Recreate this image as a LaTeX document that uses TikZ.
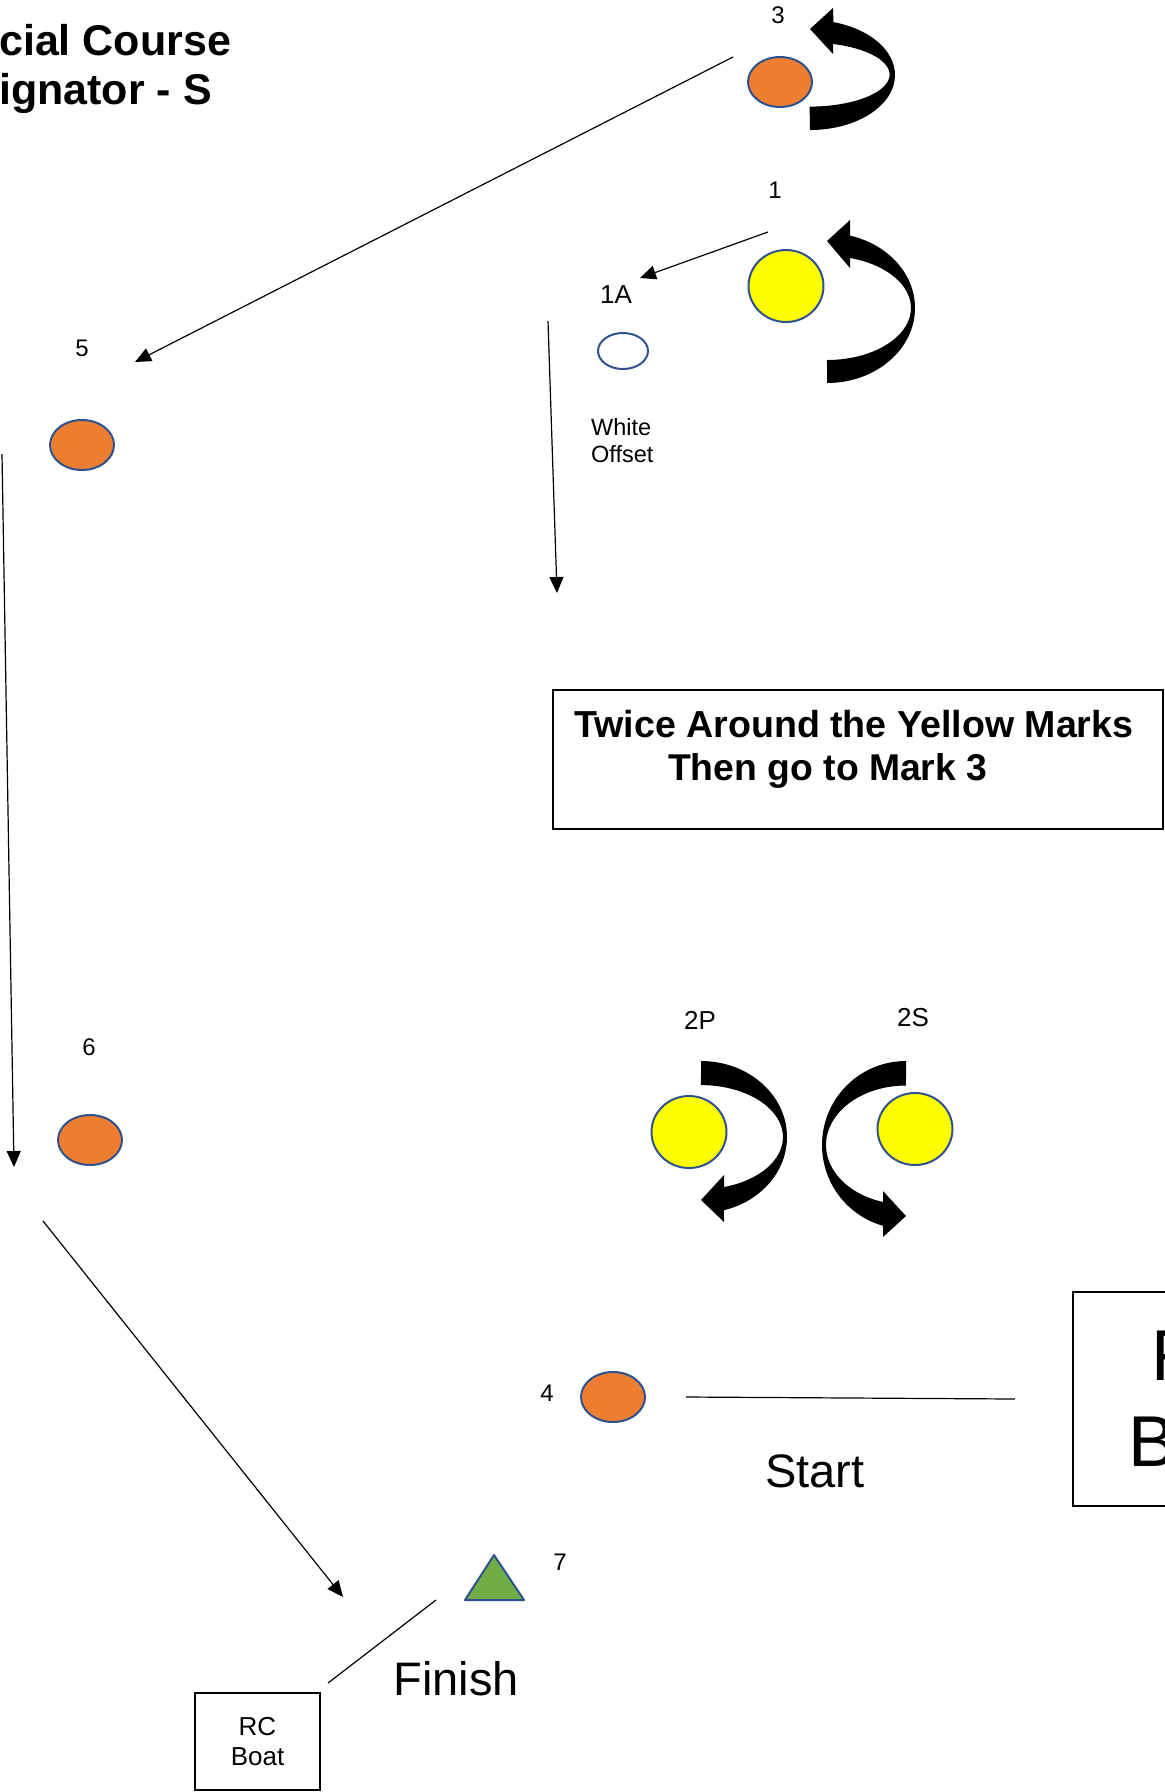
\documentclass[tikz,border=0pt]{standalone}
\usepackage{fontspec}
\setmainfont{Liberation Sans}
\usetikzlibrary{arrows.meta,shapes.geometric}

\definecolor{markorange}{HTML}{ED7D31}
\definecolor{markyellow}{HTML}{FFFF00}
\definecolor{markgreen}{HTML}{70AD47}
\definecolor{markedge}{HTML}{2F528F}

\begin{document}
\begin{tikzpicture}[x=1pt, y=-1pt, >={Triangle[length=16pt,width=14pt]},
    leg/.style={->, line width=1.2pt},
    buoy/.style={ellipse, draw=markedge, line width=2pt, inner sep=0pt},
    orangemark/.style={buoy, fill=markorange, minimum width=64pt, minimum height=50pt},
    yellowmark/.style={buoy, fill=markyellow, minimum width=75pt, minimum height=72pt},
    num/.style={font=\fontsize{24}{28}\selectfont, inner sep=0pt},
    tag/.style={font=\fontsize{26}{30}\selectfont, inner sep=0pt},
    title/.style={font=\fontsize{43}{49}\bfseries\selectfont, inner sep=0pt},
    bigtext/.style={font=\fontsize{47}{55}\selectfont, inner sep=0pt}]
    \clip (0,0) rectangle (1165,1792);

    % Title
    \node[title, anchor=base west] (title1) at (-1,55) {cial Course};
    \node[title, anchor=base west] (title2) at (-1,104) {ignator - S};

    % Marks
    \node[orangemark] (m3) at (780,82) {};
    \node[num] (n3) at (778,15) {3};
    \node[yellowmark] (m1) at (786,286) {};
    \node[num] (n1) at (775,190) {1};
    \node[buoy, fill=white, minimum width=50pt, minimum height=36pt] (m1a) at (623,351) {};
    \node[tag] (n1a) at (616,295) {1A};
    \node[anchor=west, align=left, font=\fontsize{23.5}{27}\selectfont, inner sep=0pt] (offset) at (591,441) {White\\Offset};
    \node[orangemark] (m5) at (82,445) {};
    \node[num] (n5) at (82,348) {5};
    \node[orangemark] (m6) at (90,1140) {};
    \node[num] (n6) at (89,1047) {6};
    \node[yellowmark] (m2p) at (689,1132) {};
    \node[tag] (n2p) at (700,1020) {2P};
    \node[yellowmark] (m2s) at (915,1129) {};
    \node[tag] (n2s) at (913,1018) {2S};
    \node[orangemark] (m4) at (613,1397) {};
    \node[num] (n4) at (547,1393) {4};
    \coordinate (m7) at (494,1585);
    \draw[markedge, line width=2pt, fill=markgreen, line join=round] (494,1555) -- (524,1600) -- (465,1600) -- cycle;
    \node[num] (n7) at (560,1562) {7};

    % Turn arrows
    \fill (810,130) arc[start angle=90, end angle=-74, x radius=85, y radius=55]
        -- (833,8) -- (810,29) -- (833,54) -- (833,44)
        arc[start angle=-73, end angle=90, x radius=80, y radius=32] -- cycle;
    \fill (827,383) arc[start angle=90, end angle=-74.85, x radius=88, y radius=75]
        -- (850,220) -- (827,241) -- (850,268) -- (850,258)
        arc[start angle=-74.1, end angle=90, x radius=84, y radius=52] -- cycle;
    \fill (701,1061) arc[start angle=-90, end angle=74.5, x radius=86, y radius=76]
        -- (724,1222) -- (701,1200) -- (724,1175) -- (724,1187)
        arc[start angle=73.7, end angle=-90, x radius=82, y radius=52] -- cycle;
    \fill (906,1061) arc[start angle=-90, end angle=-254.1, x radius=84, y radius=84]
        -- (883,1237) -- (906,1216) -- (883,1191) -- (883,1202)
        arc[start angle=-253.3, end angle=-90, x radius=80, y radius=59.5] -- cycle;

    % Legs
    \coordinate (l3) at (733,57);
    \coordinate (l5) at (135,362);
    \draw[leg] (l3) -- (l5);
    \coordinate (l5b) at (2,454);
    \coordinate (l6) at (14,1167);
    \draw[leg] (l5b) -- (l6);
    \coordinate (l6b) at (43,1221);
    \coordinate (l7) at (343,1597);
    \draw[leg] (l6b) -- (l7);
    \coordinate (l1) at (768,232);
    \coordinate (l1a) at (640,278);
    \draw[leg] (l1) -- (l1a);
    \coordinate (l1ab) at (548,321);
    \coordinate (l1ac) at (557,593);
    \draw[leg] (l1ab) -- (l1ac);

    % Note
    \node[draw, line width=2pt, minimum width=610pt, minimum height=139pt] (note) at (858,759.5) {};
    \node[font=\fontsize{37.6}{44}\bfseries\selectfont, inner sep=0pt, anchor=base west] (twice) at (574,737) {Twice Around the Yellow Marks};
    \node[font=\fontsize{37.3}{44}\bfseries\selectfont, inner sep=0pt, anchor=base west] (then) at (668,780) {Then go to Mark 3};

    % Start and finish
    \node[draw, line width=2pt, minimum width=260pt, minimum height=214pt, align=center,
        font=\fontsize{72}{86}\selectfont] (rcstart) at (1203,1399) {RC\\Boat};
    \coordinate (s1) at (686,1397);
    \coordinate (s2) at (1015,1399);
    \draw[line width=1.2pt] (s1) -- (s2);
    \node[bigtext] (start) at (815,1471) {Start};
    \node[draw, line width=2pt, minimum width=125pt, minimum height=97pt, align=center,
        font=\fontsize{26}{30}\selectfont] (rcfinish) at (257.5,1741.5) {RC\\Boat};
    \coordinate (f1) at (436,1600);
    \coordinate (f2) at (328,1683);
    \draw[line width=1.2pt] (f1) -- (f2);
    \node[bigtext] (finish) at (456,1679) {Finish};
\end{tikzpicture}
\end{document}
